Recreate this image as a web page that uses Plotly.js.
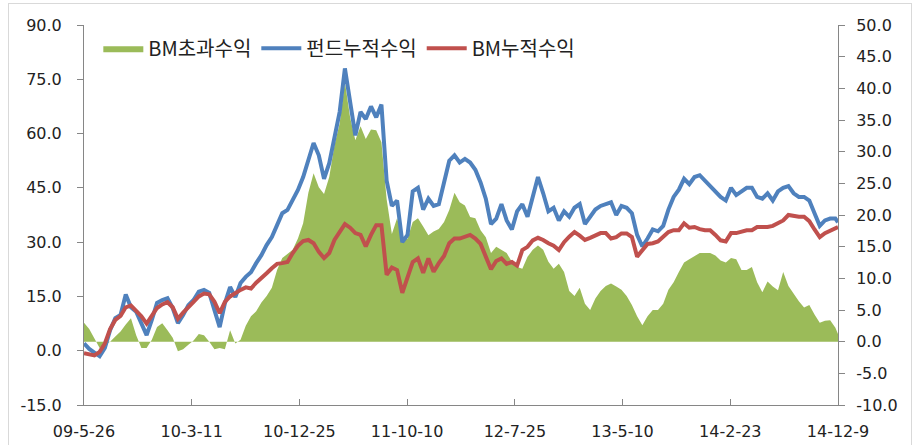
<!DOCTYPE html>
<html>
<head>
<meta charset="utf-8">
<script src="https://cdn.plot.ly/plotly-3.0.1.min.js"></script>
<style>
  html, body { margin: 0; padding: 0; background: #fff; }
  #wrap { position: relative; width: 912px; height: 445px; overflow: hidden; }
  #chart { width: 912px; height: 445px; }
  #frame { position: absolute; left: 8px; top: 3px; width: 902px; height: 470px; border: 1px solid #D9D9D9; pointer-events: none; }
</style>
</head>
<body>
<div id="wrap"><div id="chart"></div><div id="frame"></div></div>
<script>
// Dates (bi-weekly samples)
const dates = [
"2009-05-26","2009-06-09","2009-06-23","2009-07-07","2009-07-21","2009-08-04","2009-08-18","2009-09-01","2009-09-15","2009-09-29",
"2009-10-13","2009-10-27","2009-11-10","2009-11-24","2009-12-08","2009-12-22","2010-01-05","2010-01-19","2010-02-02","2010-02-16",
"2010-03-02","2010-03-16","2010-03-30","2010-04-13","2010-04-27","2010-05-11","2010-05-25","2010-06-08","2010-06-22","2010-07-06",
"2010-07-20","2010-08-03","2010-08-17","2010-08-31","2010-09-14","2010-09-28","2010-10-12","2010-10-26","2010-11-09","2010-11-23",
"2010-12-07","2010-12-21","2011-01-04","2011-01-18","2011-02-01","2011-02-15","2011-03-01","2011-03-15","2011-03-29","2011-04-12",
"2011-04-26","2011-05-10","2011-05-24","2011-06-07","2011-06-21","2011-07-05","2011-07-19","2011-08-02","2011-08-16","2011-08-30",
"2011-09-13","2011-09-27","2011-10-11","2011-10-25","2011-11-08","2011-11-22","2011-12-06","2011-12-20","2012-01-03","2012-01-17",
"2012-01-31","2012-02-14","2012-02-28","2012-03-13","2012-03-27","2012-04-10","2012-04-24","2012-05-08","2012-05-22","2012-06-05",
"2012-06-19","2012-07-03","2012-07-17","2012-07-31","2012-08-14","2012-08-28","2012-09-11","2012-09-25","2012-10-09","2012-10-23",
"2012-11-06","2012-11-20","2012-12-04","2012-12-18","2013-01-01","2013-01-15","2013-01-29","2013-02-12","2013-02-26","2013-03-12",
"2013-03-26","2013-04-09","2013-04-23","2013-05-07","2013-05-21","2013-06-04","2013-06-18","2013-07-02","2013-07-16","2013-07-30",
"2013-08-13","2013-08-27","2013-09-10","2013-09-24","2013-10-08","2013-10-22","2013-11-05","2013-11-19","2013-12-03","2013-12-17",
"2013-12-31","2014-01-14","2014-01-28","2014-02-11","2014-02-25","2014-03-11","2014-03-25","2014-04-08","2014-04-22","2014-05-06",
"2014-05-20","2014-06-03","2014-06-17","2014-07-01","2014-07-15","2014-07-29","2014-08-12","2014-08-26","2014-09-09","2014-09-23",
"2014-10-07","2014-10-21","2014-11-04","2014-11-18","2014-12-02","2014-12-09"];

// 펀드누적수익 (left axis)
const fundCum = [
2.0, 0.5, -0.5, -1.5, 0.8, 5.7, 9.0, 9.9, 15.5, 12.0,
10.8, 7.6, 4.3, 8.5, 13.2, 14.0, 14.5, 11.8, 7.6, 9.9,
12.6, 14.0, 16.3, 16.8, 16.0, 11.2, 6.5, 13.1, 17.6, 14.8,
18.7, 20.4, 21.7, 24.2, 26.4, 29.2, 31.4, 34.7, 38.0, 38.9,
41.6, 44.4, 48.0, 52.7, 57.4, 54.0, 47.5, 51.8, 59.0, 66.0,
78.0, 69.0, 59.5, 66.0, 64.0, 67.5, 64.5, 68.0, 47.0, 40.0,
41.5, 30.0, 32.0, 44.0, 45.0, 39.0, 42.0, 40.0, 40.5, 46.5,
52.5, 54.0, 52.0, 53.0, 52.0, 50.0, 46.5, 42.0, 35.0, 36.5,
40.5, 36.0, 33.5, 38.5, 40.5, 37.0, 42.5, 48.0, 43.5, 38.5,
39.5, 36.0, 38.5, 37.0, 39.5, 40.5, 35.0, 37.0, 39.0, 40.0,
40.5, 41.0, 37.5, 40.0, 39.5, 38.0, 32.0, 28.8, 31.0, 33.5,
33.0, 34.5, 39.0, 42.5, 44.5, 47.5, 46.0, 48.0, 48.5, 47.0,
45.5, 44.0, 42.5, 41.5, 45.0, 43.0, 44.0, 45.0, 45.0, 42.5,
42.0, 43.5, 41.5, 44.0, 45.0, 45.5, 43.5, 42.5, 42.5, 41.5,
38.0, 34.5, 36.0, 36.5, 36.5, 35.5];

// BM누적수익 (left axis)
const bmCum = [
-0.7, -1.0, -1.3, -0.3, 2.0, 6.0, 8.5, 9.6, 12.0, 12.5,
11.0, 9.5, 7.5, 9.8, 11.8, 12.8, 13.4, 12.0, 8.8, 10.5,
12.2, 13.5, 15.0, 15.8, 15.6, 13.5, 10.4, 13.5, 15.0, 16.0,
16.8, 17.5, 17.2, 18.8, 20.0, 21.4, 22.8, 24.0, 24.2, 24.5,
27.0, 29.0, 30.3, 30.6, 29.7, 27.3, 25.6, 27.0, 30.6, 33.0,
35.0, 34.0, 32.5, 32.0, 28.8, 32.0, 34.7, 34.7, 21.0, 23.0,
22.3, 16.0, 20.0, 24.5, 25.5, 21.5, 25.5, 21.8, 24.2, 26.2,
29.7, 31.0, 31.0, 31.4, 32.0, 31.0, 29.5, 26.0, 22.5, 24.8,
25.5, 24.0, 24.5, 23.5, 27.8, 28.7, 30.5, 31.2, 30.6, 29.7,
29.0, 27.8, 30.0, 31.5, 32.8, 31.8, 30.6, 31.2, 32.0, 32.5,
32.5, 31.0, 31.4, 32.4, 32.4, 31.4, 26.0, 27.8, 29.5, 29.7,
30.2, 31.5, 32.8, 33.3, 33.3, 35.2, 34.0, 34.2, 33.6, 33.3,
33.3, 32.0, 30.5, 30.2, 32.5, 32.5, 33.0, 33.3, 33.3, 34.2,
34.2, 34.2, 34.5, 35.2, 36.0, 37.5, 37.2, 37.0, 37.0, 35.8,
33.5, 31.4, 32.5, 33.3, 34.0, 34.2];

// BM초과수익 (right axis)
const excess = [
3.0, 2.0, 0.5, -1.0, -0.5, 0.0, 0.8, 1.6, 2.7, 3.7,
1.0, -1.0, -1.0, 0.3, 2.3, 2.9, 1.8, 0.6, -1.5, -1.2,
-0.5, 0.2, 1.2, 1.0, 0.0, -1.2, -1.0, -1.2, 1.8, -0.3,
0.3, 2.5, 4.0, 4.8, 6.2, 7.2, 8.5, 11.3, 13.2, 13.8,
14.5, 16.3, 18.7, 23.5, 26.6, 24.4, 23.3, 26.0, 31.0, 34.5,
41.0, 35.4, 31.8, 34.0, 32.0, 33.5, 33.4, 31.5, 22.5, 17.0,
19.5, 16.5, 16.2, 18.9, 19.5, 18.2, 16.8, 17.4, 17.8, 18.9,
20.8, 23.5, 22.0, 21.5, 19.7, 19.5, 17.6, 16.5, 14.0, 15.0,
14.5, 14.0, 12.6, 11.8, 11.5, 13.4, 14.5, 15.2, 14.5, 12.6,
11.5, 12.3, 11.0, 8.0, 7.2, 8.5, 6.0, 5.0, 6.8, 8.0,
8.8, 9.2, 8.7, 8.2, 7.2, 5.8, 4.0, 2.6, 4.0, 5.0,
5.0, 6.0, 8.2, 9.4, 11.0, 12.5, 13.0, 13.5, 14.0, 14.0,
14.0, 13.6, 12.8, 12.5, 13.2, 13.0, 11.3, 11.3, 11.8, 9.4,
7.8, 9.5, 8.7, 8.1, 11.0, 8.8, 7.5, 6.4, 5.4, 5.8,
4.3, 3.0, 3.3, 3.4, 2.2, 1.2];

const tickDates = ["2009-05-26","2010-03-11","2010-12-25","2011-10-10","2012-07-25","2013-05-10","2014-02-23","2014-12-09"];
const tickLabels = ["09-5-26","10-3-11","10-12-25","11-10-10","12-7-25","13-5-10","14-2-23","14-12-9"];

const leftTickVals = [-15, 0, 15, 30, 45, 60, 75, 90];
const leftTickText = ["-15.0", "0.0", "15.0", "30.0", "45.0", "60.0", "75.0", "90.0"];
const rightTickVals = [-10, -5, 0, 5, 10, 15, 20, 25, 30, 35, 40, 45, 50];
const rightTickText = ["-10.0", "-5.0", "0.0", "5.0", "10.0", "15.0", "20.0", "25.0", "30.0", "35.0", "40.0", "45.0", "50.0"];

const seriesNames = ["BM초과수익", "펀드누적수익", "BM누적수익"];

const axisColor = "#868686";
const tickFont = { family: "DejaVu Sans", size: 16, color: "#222" };

const traces = [
  { x: dates, y: excess, name: seriesNames[0], type: "scatter", mode: "lines",
    fill: "tozeroy", fillcolor: "#9BBB59", line: { width: 0, color: "#9BBB59" }, yaxis: "y" },
  { x: dates, y: fundCum, name: seriesNames[1], type: "scatter", mode: "lines",
    line: { width: 4, color: "#4F81BD" }, yaxis: "y2" },
  { x: dates, y: bmCum, name: seriesNames[2], type: "scatter", mode: "lines",
    line: { width: 4, color: "#C0504D" }, yaxis: "y2" }
];

const layout = {
  width: 912, height: 445,
  margin: { l: 84, r: 74, t: 25, b: 40, pad: 0 },
  paper_bgcolor: "#fff", plot_bgcolor: "#fff",
  showlegend: true,
  legend: { orientation: "h", x: 0.019, xanchor: "left", y: 0.99, yanchor: "top",
    bgcolor: "rgba(0,0,0,0)", font: { family: "Noto Sans CJK KR", size: 20, color: "#222" },
    itemwidth: 40, tracegroupgap: 0 },
  xaxis: {
    type: "date", range: ["2009-05-26", "2014-12-09"],
    tickmode: "array", tickvals: tickDates, ticktext: tickLabels,
    ticks: "inside", ticklen: 6, tickcolor: axisColor, tickwidth: 1,
    showline: true, linecolor: axisColor, linewidth: 1,
    showgrid: false, zeroline: false, tickfont: tickFont, ticklabelstandoff: 12
  },
  yaxis: {
    side: "right", range: [-10, 50], tickmode: "array", tickvals: rightTickVals, ticktext: rightTickText,
    ticks: "outside", ticklen: 6, tickcolor: axisColor,
    showline: true, linecolor: axisColor, linewidth: 1,
    showgrid: false, zeroline: false, tickfont: tickFont, ticklabelstandoff: 8
  },
  yaxis2: {
    side: "left", overlaying: "y", range: [-15, 90], tickmode: "array", tickvals: leftTickVals, ticktext: leftTickText,
    ticks: "outside", ticklen: 6, tickcolor: axisColor,
    showline: true, linecolor: axisColor, linewidth: 1,
    showgrid: false, zeroline: false, tickfont: tickFont, ticklabelstandoff: 12
  }
};

Plotly.newPlot("chart", traces, layout, { staticPlot: true, displayModeBar: false });
</script>
</body>
</html>
